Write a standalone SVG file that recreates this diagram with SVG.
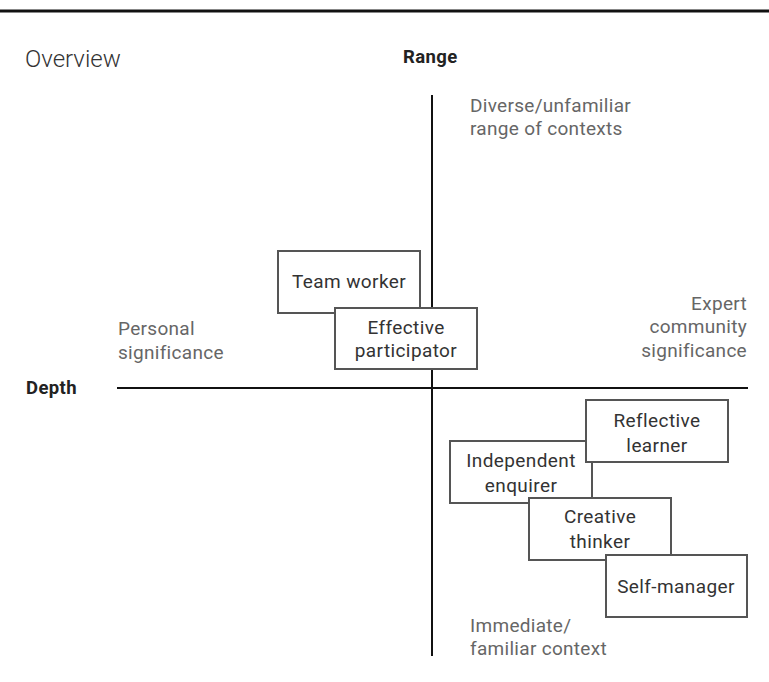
<svg xmlns="http://www.w3.org/2000/svg" width="769" height="682" viewBox="0 0 769 682">
<style>
.lbl{font-family:Roboto,"DejaVu Sans",sans-serif;font-size:19px;fill:#666;letter-spacing:0.3px}
.axis{font-family:Roboto,"DejaVu Sans",sans-serif;font-size:18.5px;font-weight:bold;fill:#222;letter-spacing:0.4px}
.box rect{fill:#fff;stroke:#555;stroke-width:2}
.box text{font-family:Roboto,"DejaVu Sans",sans-serif;font-size:19px;fill:#333;text-anchor:middle;letter-spacing:0.4px}
.ax{stroke:#111;stroke-width:2}
</style>
<rect width="769" height="682" fill="#fff"/>
<line x1="0" y1="11" x2="769" y2="11" stroke="#111" stroke-width="3"/>
<text x="25" y="67" style="font-family:Roboto,'DejaVu Sans',sans-serif;font-size:24px;fill:#333;font-weight:300">Overview</text>
<text class="axis" x="403" y="63">Range</text>
<text class="axis" x="26" y="394">Depth</text>
<g id="connectors">
<line class="ax" x1="432" y1="95" x2="432" y2="656"/>
<line class="ax" x1="117" y1="388" x2="748" y2="388"/>
</g>
<text class="lbl" x="470" y="112">Diverse/unfamiliar</text>
<text class="lbl" x="470" y="135">range of contexts</text>
<text class="lbl" x="118" y="335">Personal</text>
<text class="lbl" x="118" y="359">significance</text>
<g class="lbl" text-anchor="end">
<text x="747" y="310">Expert</text>
<text x="747" y="333">community</text>
<text x="747" y="357">significance</text>
</g>
<text class="lbl" x="470" y="632">Immediate/</text>
<text class="lbl" x="470" y="655">familiar context</text>
<g id="team-worker" class="box">
<rect x="278" y="251" width="142" height="62"/>
<text x="349" y="288">Team worker</text>
</g>
<g id="effective-participator" class="box">
<rect x="335" y="308" width="142" height="61"/>
<text x="406" y="334">Effective</text>
<text x="406" y="357">participator</text>
</g>
<g id="independent-enquirer" class="box">
<rect x="450" y="441" width="142" height="62"/>
<text x="521" y="467">Independent</text>
<text x="521" y="492">enquirer</text>
</g>
<g id="reflective-learner" class="box">
<rect x="586" y="400" width="142" height="62"/>
<text x="657" y="427">Reflective</text>
<text x="657" y="452">learner</text>
</g>
<g id="creative-thinker" class="box">
<rect x="529" y="498" width="142" height="62"/>
<text x="600" y="523">Creative</text>
<text x="600" y="548">thinker</text>
</g>
<g id="self-manager" class="box">
<rect x="606" y="555" width="141" height="62"/>
<text x="676" y="593">Self-manager</text>
</g>
</svg>
